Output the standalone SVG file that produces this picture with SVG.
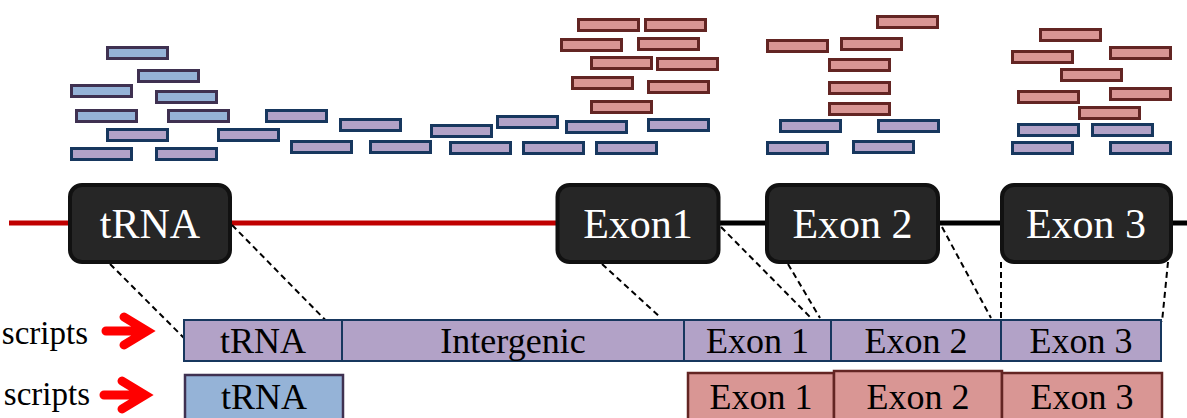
<svg xmlns="http://www.w3.org/2000/svg" width="1187" height="418" viewBox="0 0 1187 418">
<style>
.rd{stroke-width:3}
.b{fill:#95b3d7;stroke:#3f3151}
.p{fill:#b2a2c7;stroke:#17375e}
.r{fill:#d99694;stroke:#632523}
.box{fill:#262626;stroke:#111111;stroke-width:4}
.bt{font-family:"Liberation Serif",serif;font-size:42px;fill:#ffffff;text-anchor:middle}
.lt{font-family:"Liberation Serif",serif;font-size:36px;fill:#000000;text-anchor:middle}
.side{font-family:"Liberation Serif",serif;font-size:33px;fill:#000000;text-anchor:end}
.dash{stroke:#000;stroke-width:2;stroke-dasharray:6,4;fill:none}
.arr{stroke:#ff0000;stroke-width:9;fill:none;stroke-linejoin:miter;stroke-linecap:round}
</style>
<defs>
<rect id="rd" width="60" height="11"/>
</defs>
<g id="reads">
<g class="rd b">
<use href="#rd" x="107.5" y="47.5"/><use href="#rd" x="138.5" y="70.5"/><use href="#rd" x="71.5" y="85.5"/><use href="#rd" x="156.5" y="91.5"/><use href="#rd" x="76.5" y="110.5"/><use href="#rd" x="168.5" y="110.5"/>
</g>
<g class="rd p">
<use href="#rd" x="266.5" y="110.5"/><use href="#rd" x="107.5" y="129.5"/><use href="#rd" x="218.5" y="129.5"/><use href="#rd" x="71.5" y="148.5"/><use href="#rd" x="156.5" y="148.5"/><use href="#rd" x="291.5" y="141.5"/><use href="#rd" x="340.5" y="119.5"/><use href="#rd" x="431.5" y="125.5"/><use href="#rd" x="497.5" y="116.5"/><use href="#rd" x="566.5" y="121.5"/><use href="#rd" x="370.5" y="141.5"/><use href="#rd" x="450.5" y="142.5"/><use href="#rd" x="523.5" y="142.5"/><use href="#rd" x="596.5" y="142.5"/><use href="#rd" x="648.5" y="119.5"/>
<use href="#rd" x="780.5" y="120.5"/><use href="#rd" x="878.5" y="120.5"/><use href="#rd" x="767.5" y="142.5"/><use href="#rd" x="853.5" y="141.5"/>
<use href="#rd" x="1018.5" y="124.5"/><use href="#rd" x="1092.5" y="124.5"/><use href="#rd" x="1012.5" y="142.5"/><use href="#rd" x="1110.5" y="142.5"/>
</g>
<g class="rd r">
<use href="#rd" x="578.5" y="19.5"/><use href="#rd" x="645.5" y="19.5"/><use href="#rd" x="561.5" y="39.5"/><use href="#rd" x="638.5" y="38.5"/><use href="#rd" x="591.5" y="57.5"/><use href="#rd" x="657.5" y="58.5"/><use href="#rd" x="572.5" y="77.5"/><use href="#rd" x="648.5" y="81.5"/><use href="#rd" x="591.5" y="101.5"/>
<use href="#rd" x="877.5" y="16.5"/><use href="#rd" x="767.5" y="40.5"/><use href="#rd" x="841.5" y="38.5"/><use href="#rd" x="829.5" y="59.5"/><use href="#rd" x="829.5" y="82.5"/><use href="#rd" x="829.5" y="103.5"/>
<use href="#rd" x="1040.5" y="29.5"/><use href="#rd" x="1012.5" y="51.5"/><use href="#rd" x="1110.5" y="47.5"/><use href="#rd" x="1061.5" y="69.5"/><use href="#rd" x="1018.5" y="91.5"/><use href="#rd" x="1110.5" y="88.5"/><use href="#rd" x="1079.5" y="107.5"/>
</g>
</g>
<g id="genome">
<line x1="9" y1="223" x2="560" y2="223" stroke="#c00000" stroke-width="5"/>
<line x1="715" y1="223" x2="1187" y2="223" stroke="#000000" stroke-width="5"/>
</g>
<g id="connectors">
<line class="dash" x1="110" y1="264" x2="184" y2="338"/>
<line class="dash" x1="232" y1="225" x2="342" y2="337"/>
<line class="dash" x1="602" y1="264" x2="661" y2="318"/>
<line class="dash" x1="721" y1="227" x2="811" y2="318"/>
<line class="dash" x1="788" y1="264" x2="820" y2="318"/>
<line class="dash" x1="942" y1="227" x2="991" y2="318"/>
<line class="dash" x1="1001" y1="262" x2="1001" y2="318"/>
<line class="dash" x1="1168" y1="262" x2="1162" y2="322"/>
</g>
<g id="node-trna"><rect class="box" x="70" y="185" width="160" height="77" rx="12"/><text class="bt" x="150" y="238">tRNA</text></g>
<g id="node-exon1"><rect class="box" x="557.5" y="185" width="161" height="77" rx="12"/><text class="bt" x="638" y="238">Exon1</text></g>
<g id="node-exon2"><rect class="box" x="767" y="185" width="171" height="77" rx="12"/><text class="bt" x="852.5" y="238">Exon 2</text></g>
<g id="node-exon3"><rect class="box" x="1002" y="185" width="169" height="77" rx="12"/><text class="bt" x="1086" y="238">Exon 3</text></g>
<g id="row-purple">
<rect class="p" x="184" y="320" width="158" height="41" stroke-width="2"/><text class="lt" x="263" y="353">tRNA</text>
<rect class="p" x="342" y="320" width="342" height="41" stroke-width="2"/><text class="lt" x="513" y="353">Intergenic</text>
<rect class="p" x="684" y="320" width="147" height="41" stroke-width="2"/><text class="lt" x="757.5" y="353">Exon 1</text>
<rect class="p" x="831" y="320" width="170" height="41" stroke-width="2"/><text class="lt" x="916" y="353">Exon 2</text>
<rect class="p" x="1001" y="320" width="160" height="41" stroke-width="2"/><text class="lt" x="1081" y="353">Exon 3</text>
</g>
<g id="row-blue">
<rect class="b" x="185" y="375" width="158" height="50" stroke-width="2.5"/><text class="lt" x="264" y="409">tRNA</text>
</g>
<g id="row-red">
<rect class="r" x="688" y="373" width="146" height="50" stroke-width="2.5"/><text class="lt" x="761" y="409">Exon 1</text>
<rect class="r" x="834" y="371" width="168" height="52" stroke-width="2.5"/><text class="lt" x="918" y="409">Exon 2</text>
<rect class="r" x="1002" y="373" width="160" height="50" stroke-width="2.5"/><text class="lt" x="1082" y="409">Exon 3</text>
</g>
<g id="labels">
<text class="side" x="88" y="344">scripts</text>
<path class="arr" d="M106,331 H146 M124,317 L147,331 L124,345"/>
<text class="side" x="90" y="405">scripts</text>
<path class="arr" d="M104,395 H144 M122,381 L145,395 L122,409"/>
</g>
</svg>
